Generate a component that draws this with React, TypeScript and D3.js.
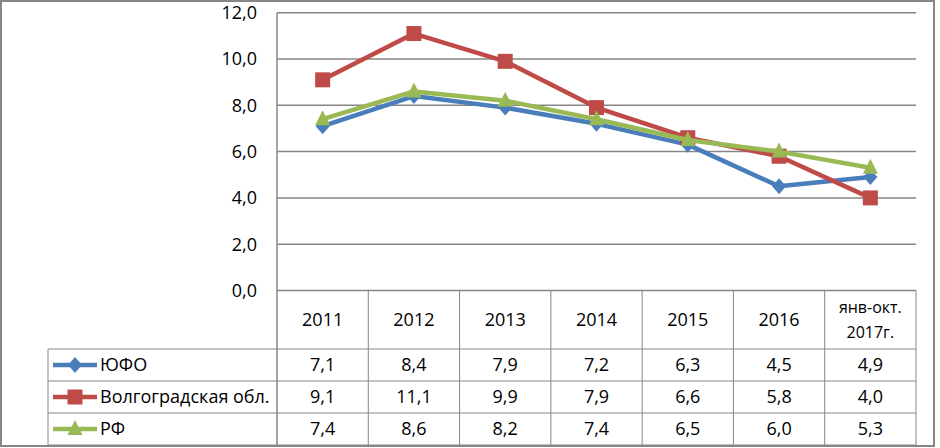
import * as React from 'react';
import * as d3 from 'd3';

const categories = ['2011', '2012', '2013', '2014', '2015', '2016', 'янв-окт.\n2017г.'];
const yufo = [7.1, 8.4, 7.9, 7.2, 6.3, 4.5, 4.9];
const volgograd = [9.1, 11.1, 9.9, 7.9, 6.6, 5.8, 4.0];
const rf = [7.4, 8.6, 8.2, 7.4, 6.5, 6.0, 5.3];
const yTicks = [0, 2, 4, 6, 8, 10, 12];

const series = [
  { name: 'ЮФО', values: yufo, color: '#4A7EBB', marker: 'diamond' },
  { name: 'Волгоградская обл.', values: volgograd, color: '#BE4B48', marker: 'square' },
  { name: 'РФ', values: rf, color: '#98B954', marker: 'triangle' },
];

const W = 940;
const H = 448;
const FONT = '"Open Sans", sans-serif';
const GRID = '#868686';

function Marker({ type, x, y, color }: { type: string; x: number; y: number; color: string }) {
  if (type === 'square') {
    return <rect x={x - 7.5} y={y - 7.5} width={15} height={15} fill={color} />;
  }
  if (type === 'diamond') {
    return <path d="M0,-8L7,0L0,8L-7,0Z" transform={`translate(${x},${y})`} fill={color} />;
  }
  return <path d="M0,-9L7.5,6L-7.5,6Z" transform={`translate(${x},${y})`} fill={color} />;
}

export default function App() {
  const left = 277;
  const right = 916;
  const top = 12.7;
  const bottom = 290.5;
  const legendLeft = 48;
  const headerBottom = 349;
  const rowH = 32;

  const x = d3.scaleBand().domain(categories).range([left, right]);
  const y = d3.scaleLinear().domain([0, 12]).range([bottom, top]);
  const cx = (c: string) => (x(c) || 0) + x.bandwidth() / 2;

  const line = d3
    .line<number>()
    .x((_, i) => cx(categories[i]))
    .y((d) => y(d));

  const rowTop = (i: number) => headerBottom + i * rowH;
  const tableBottom = rowTop(series.length);
  const fmt = (v: number) => v.toFixed(1).replace('.', ',');

  return (
    <svg
      width={W}
      height={H}
      style={{ position: 'absolute', left: 0, top: 0, background: '#fff' }}
      fontFamily={FONT}
    >
      <rect x={1} y={1} width={933} height={445} fill="#fff" stroke={GRID} strokeWidth={2} />

      {/* gridlines */}
      {yTicks.map((t) => (
        <line key={t} x1={left} x2={right} y1={y(t)} y2={y(t)} stroke={GRID} strokeWidth={1.5} />
      ))}
      {yTicks.map((t) => (
        <text key={'l' + t} x={257} y={y(t)} dy="0.35em" textAnchor="end" fontSize={18} fill="#000">
          {fmt(t)}
        </text>
      ))}
      <line x1={left} x2={left} y1={top} y2={tableBottom} stroke={GRID} strokeWidth={1.5} />

      {/* table */}
      {categories.map((c, i) => (
        <line
          key={'v' + i}
          x1={(x(c) || 0) + x.bandwidth()}
          x2={(x(c) || 0) + x.bandwidth()}
          y1={bottom}
          y2={tableBottom}
          stroke={GRID}
          strokeWidth={1}
        />
      ))}
      <line x1={legendLeft} x2={legendLeft} y1={headerBottom} y2={tableBottom} stroke={GRID} strokeWidth={1} />
      {d3.range(series.length + 1).map((i) => (
        <line key={'h' + i} x1={legendLeft} x2={right} y1={rowTop(i)} y2={rowTop(i)} stroke={GRID} strokeWidth={1} />
      ))}
      {categories.map((c) => {
        const parts = c.split('\n');
        const mid = (bottom + headerBottom) / 2;
        return (
          <text key={'c' + c} x={cx(c)} textAnchor="middle" fill="#000">
            {parts.map((p, j) => (
              <tspan
                key={j}
                x={cx(c)}
                y={mid + (j - (parts.length - 1) / 2) * 25}
                dy="0.35em"
                fontSize={parts.length > 1 ? 16 : 18}
              >
                {p}
              </tspan>
            ))}
          </text>
        );
      })}
      {series.map((s, i) => {
        const my = rowTop(i) + rowH / 2;
        return (
          <g key={'r' + s.name}>
            <line x1={53} x2={97} y1={my} y2={my} stroke={s.color} strokeWidth={4.5} />
            <Marker type={s.marker} x={75} y={my} color={s.color} />
            <text x={100} y={my} dy="0.35em" fontSize={18} fill="#000">
              {s.name}
            </text>
            {s.values.map((v, j) => (
              <text key={j} x={cx(categories[j])} y={my} dy="0.35em" textAnchor="middle" fontSize={18} fill="#000">
                {fmt(v)}
              </text>
            ))}
          </g>
        );
      })}

      {/* series */}
      {series.map((s) => (
        <g key={'s' + s.name}>
          <path d={line(s.values) || ''} fill="none" stroke={s.color} strokeWidth={4.5} strokeLinejoin="round" />
          {s.values.map((v, j) => (
            <Marker key={j} type={s.marker} x={cx(categories[j])} y={y(v)} color={s.color} />
          ))}
        </g>
      ))}
    </svg>
  );
}
